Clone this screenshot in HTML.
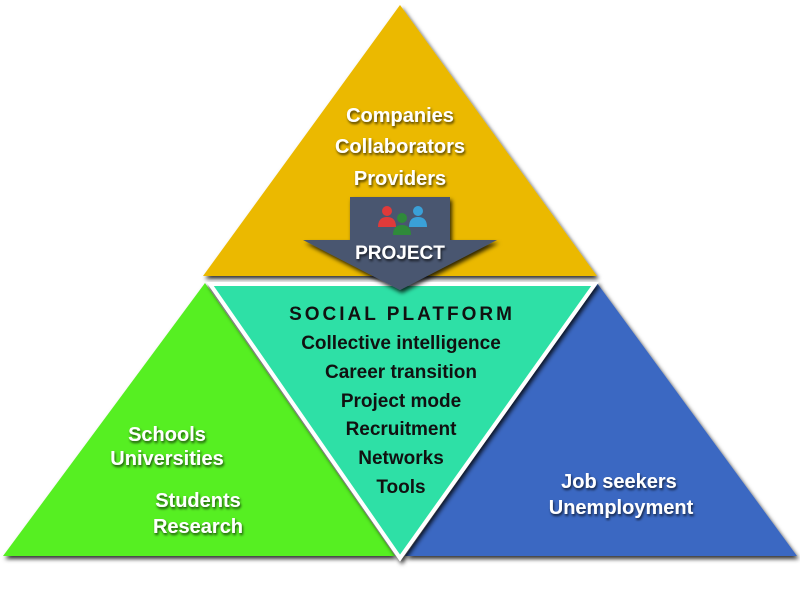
<!DOCTYPE html>
<html><head><style>
body{margin:0;width:800px;height:600px;background:#fff;overflow:hidden}
svg text{font-family:"Liberation Sans",sans-serif;font-weight:bold;text-anchor:middle}
.w{fill:#fff;font-size:20px;filter:url(#ts)}
.b{fill:#111;font-size:19px}
</style></head><body>
<svg width="800" height="600" viewBox="0 0 800 600">
<defs>
<filter id="sh" x="-10%" y="-10%" width="120%" height="120%"><feDropShadow dx="2" dy="3" stdDeviation="2" flood-color="#000" flood-opacity="0.8"/></filter>
<filter id="ts"><feDropShadow dx="1" dy="2" stdDeviation="1.2" flood-color="#000" flood-opacity="0.7"/></filter>
</defs>
<polygon points="400,5 597,276 203,276" fill="#ebb900" filter="url(#sh)"/>
<polygon points="205,283 395,556 3,556" fill="#56ef22" filter="url(#sh)"/>
<polygon points="597,283 797,556 405,556" fill="#3b68c2" filter="url(#sh)"/>
<polygon points="210,284 595,284 400,558" fill="#2de0a6" stroke="#fff" stroke-width="4" filter="url(#sh)"/>
<polygon points="350,197 450,197 450,240 497,240 400,290 303,240 350,240" fill="#485670" filter="url(#sh)"/>
<g>
<circle cx="387" cy="211" r="5" fill="#e03a3a"/><path d="M378,227 q0,-10 9,-10 q9,0 9,10z" fill="#e03a3a"/>
<circle cx="418" cy="211" r="5" fill="#3aa0d8"/><path d="M409,227 q0,-10 9,-10 q9,0 9,10z" fill="#3aa0d8"/>
<circle cx="402" cy="218" r="5" fill="#2f8a3a"/><path d="M393,235 q0,-10 9,-10 q9,0 9,10z" fill="#2f8a3a"/>
</g>
<text x="400" y="259" class="w" style="font-size:19px">PROJECT</text>
<text x="400" y="122" class="w">Companies</text>
<text x="400" y="153" class="w">Collaborators</text>
<text x="400" y="185" class="w">Providers</text>
<text x="402" y="320" class="b" style="letter-spacing:3px">SOCIAL PLATFORM</text>
<text x="401" y="349" class="b">Collective intelligence</text>
<text x="401" y="378" class="b">Career transition</text>
<text x="401" y="407" class="b">Project mode</text>
<text x="401" y="435" class="b">Recruitment</text>
<text x="401" y="464" class="b">Networks</text>
<text x="401" y="493" class="b">Tools</text>
<text x="167" y="441" class="w">Schools</text>
<text x="167" y="465" class="w">Universities</text>
<text x="198" y="507" class="w">Students</text>
<text x="198" y="533" class="w">Research</text>
<text x="619" y="488" class="w">Job seekers</text>
<text x="621" y="514" class="w">Unemployment</text>
</svg>
</body></html>
